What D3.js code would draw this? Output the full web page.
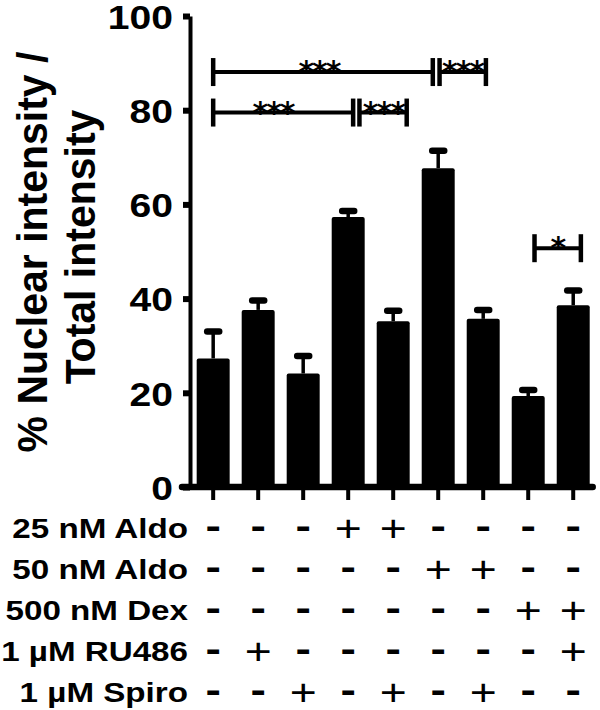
<!DOCTYPE html>
<html>
<head>
<meta charset="utf-8">
<script src="https://cdn.jsdelivr.net/npm/d3@7"></script>
<style>
  html, body { margin: 0; padding: 0; background: #fff; }
  svg { display: block; }
</style>
</head>
<body>
<div id="chart"></div>
<script>
// ---------- data ----------
const conditions = ["c1", "c2", "c3", "c4", "c5", "c6", "c7", "c8", "c9"];
const means  = [27.3, 37.6, 24.1, 57.3, 35.2, 67.7, 35.7, 19.3, 38.6];
const errors = [5.7, 2.0, 3.7, 1.3, 2.2, 3.7, 1.9, 1.3, 3.1];
const yTicks = [0, 20, 40, 60, 80, 100];

const treatments = ["25 nM Aldo", "50 nM Aldo", "500 nM Dex", "1 µM RU486", "1 µM Spiro"];
const treatmentSigns = [
  ["-", "-", "-", "+", "+", "-", "-", "-", "-"],
  ["-", "-", "-", "-", "-", "+", "+", "-", "-"],
  ["-", "-", "-", "-", "-", "-", "-", "+", "+"],
  ["-", "+", "-", "-", "-", "-", "-", "-", "+"],
  ["-", "-", "+", "-", "+", "-", "+", "-", "-"]
];

// significance brackets (in bar-index units and data units)
const sigFrom    = [0, 5.03, 0, 3.25, 7.14];
const sigTo      = [4.88, 6.06, 3.11, 4.3, 8.17];
const sigLabelAt = [2.35, 5.54, 1.33, 3.78, 7.65];
const sigLevel   = [88.1, 88.1, 79.5, 79.5, 50.7];
const sigLabel   = ["***", "***", "***", "***", "*"];

// ---------- layout ----------
const W = 600, H = 710;
const FONT = "'Liberation Sans', Arial, Helvetica, sans-serif";

const svg = d3.select("#chart").append("svg")
  .attr("width", W).attr("height", H)
  .attr("viewBox", `0 0 ${W} ${H}`);

const x = d3.scaleBand()
  .domain(d3.range(conditions.length))
  .range([190.7, 595.7])
  .paddingInner(0.267)
  .paddingOuter(0.133);

const y = d3.scaleLinear().domain([0, 100]).range([487, 16]);

const cx = i => x(0) + x.bandwidth() / 2 + i * x.step();
const axisX = 190;

// ---------- bars ----------
svg.append("g").selectAll("rect")
  .data(means)
  .join("rect")
  .attr("x", (d, i) => x(i))
  .attr("y", d => y(d))
  .attr("width", x.bandwidth())
  .attr("height", d => y(0) - y(d))
  .attr("rx", 2)
  .attr("fill", "#000");

// ---------- error bars ----------
const eb = svg.append("g");
eb.selectAll("line.whisker")
  .data(means)
  .join("line")
  .attr("class", "whisker")
  .attr("x1", (d, i) => cx(i)).attr("x2", (d, i) => cx(i))
  .attr("y1", d => y(d))
  .attr("y2", (d, i) => y(d + errors[i]))
  .attr("stroke", "#000").attr("stroke-width", 3.5);
eb.selectAll("line.cap")
  .data(means)
  .join("line")
  .attr("class", "cap")
  .attr("x1", (d, i) => cx(i) - 6).attr("x2", (d, i) => cx(i) + 6)
  .attr("y1", (d, i) => y(d + errors[i]))
  .attr("y2", (d, i) => y(d + errors[i]))
  .attr("stroke", "#000").attr("stroke-width", 6.5)
  .attr("stroke-linecap", "round");

// ---------- y axis ----------
const yAxis = svg.append("g")
  .attr("transform", `translate(${axisX},0)`)
  .call(d3.axisLeft(y).tickValues(yTicks).tickSize(7).tickSizeOuter(0));
yAxis.select(".domain").attr("stroke", "#000").attr("stroke-width", 4);
yAxis.selectAll(".tick line").attr("stroke", "#000").attr("stroke-width", 6);
yAxis.selectAll(".tick text")
  .attr("x", -14.8)
  .attr("dy", "0.36em")
  .attr("transform", "scale(1.15,1)")
  .attr("font-family", FONT)
  .attr("font-weight", "bold")
  .attr("font-size", 34)
  .attr("fill", "#000");

// ---------- x axis ----------
const xAxis = svg.append("g")
  .attr("transform", `translate(0,${y(0)})`)
  .call(d3.axisBottom(x).tickSize(13).tickSizeOuter(0).tickFormat(""));
xAxis.select(".domain").remove();
xAxis.selectAll(".tick line").attr("stroke", "#000").attr("stroke-width", 4);
svg.append("line")
  .attr("x1", axisX - 8).attr("x2", x.range()[1] - 3)
  .attr("y1", y(0)).attr("y2", y(0))
  .attr("stroke", "#000").attr("stroke-width", 6.5)
  .attr("stroke-linecap", "round");

// ---------- y axis title ----------
const titleLines = ["% Nuclear intensity /", "Total intensity"];
const titlePos = [[47, 252], [95, 247]];
svg.append("g").selectAll("text")
  .data(titleLines)
  .join("text")
  .attr("transform", (d, i) => `translate(${titlePos[i][0]},${titlePos[i][1]}) scale(1.05,1) rotate(-90)`)
  .attr("text-anchor", "middle")
  .attr("font-family", FONT)
  .attr("font-weight", "bold")
  .attr("font-size", 41)
  .attr("fill", "#000")
  .text(d => d);

// ---------- significance brackets ----------
const sig = svg.append("g");
sigFrom.forEach((f, k) => {
  const x1 = cx(f), x2 = cx(sigTo[k]), yy = y(sigLevel[k]);
  const half = 14;
  sig.append("line")
    .attr("x1", x1).attr("x2", x2).attr("y1", yy).attr("y2", yy)
    .attr("stroke", "#000").attr("stroke-width", 4);
  [x1, x2].forEach(xx => {
    sig.append("line")
      .attr("x1", xx).attr("x2", xx)
      .attr("y1", yy - half).attr("y2", yy + half)
      .attr("stroke", "#000").attr("stroke-width", 4.5);
  });
  sig.append("text")
    .attr("x", cx(sigLabelAt[k]))
    .attr("y", yy + 10)
    .attr("text-anchor", "middle")
    .attr("font-family", "'DejaVu Sans', sans-serif")
    .attr("font-weight", "bold")
    .attr("font-size", 30)
    .attr("letter-spacing", -2)
    .attr("fill", "#000")
    .text(sigLabel[k]);
});

// ---------- treatment table ----------
const rowCenters = d3.scaleBand().domain(d3.range(treatments.length)).range([507, 712]);
const rc = i => rowCenters(i) + rowCenters.bandwidth() / 2;
const table = svg.append("g");
table.selectAll("text.label")
  .data(treatments)
  .join("text")
  .attr("class", "label")
  .attr("transform", (d, i) => `translate(188,${rc(i) + 10}) scale(1.185,1)`)
  .attr("text-anchor", "end")
  .attr("font-family", FONT)
  .attr("font-weight", "bold")
  .attr("font-size", 28)
  .attr("fill", "#000")
  .text(d => d);

treatmentSigns.forEach((row, r) => {
  table.append("g").selectAll("text")
    .data(row)
    .join("text")
    .attr("transform", (d, i) => `translate(${cx(i)},${rc(r) + (d === "+" ? 13 : 10)}) scale(1.25,1)`)
    .attr("text-anchor", "middle")
    .attr("font-family", FONT)
    .attr("font-weight", d => d === "+" ? "normal" : "bold")
    .attr("font-size", 37)
    .attr("fill", "#000")
    .text(d => d);
});
</script>
</body>
</html>
